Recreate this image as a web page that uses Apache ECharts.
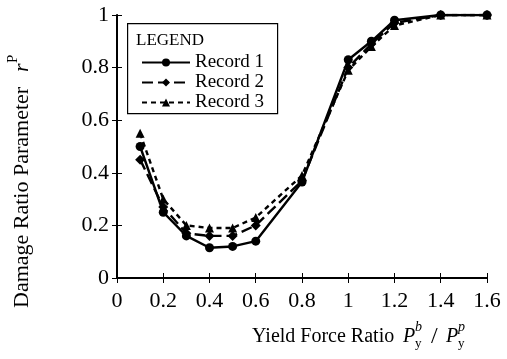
<!DOCTYPE html>
<html><head><meta charset="utf-8">
<script src="https://cdn.jsdelivr.net/npm/echarts@6/dist/echarts.min.js"></script>
<style>html,body{margin:0;padding:0;background:#fff}#c{width:507px;height:359px}</style>
</head><body><div id="c"></div>
<script>
const xValues = [0.1, 0.2, 0.3, 0.4, 0.5, 0.6, 0.8, 1.0, 1.1, 1.2, 1.4, 1.6];
const record1 = [0.50, 0.25, 0.16, 0.115, 0.12, 0.14, 0.365, 0.83, 0.90, 0.98, 1.0, 1.0];
const record2 = [0.45, 0.27, 0.17, 0.16, 0.16, 0.20, 0.37, 0.80, 0.89, 0.97, 1.0, 1.0];
const record3 = [0.55, 0.30, 0.20, 0.19, 0.19, 0.23, 0.39, 0.79, 0.88, 0.96, 1.0, 1.0];
const seriesNames = ['Record 1', 'Record 2', 'Record 3'];
const FONT = 'Liberation Serif';
const pair = (ys) => xValues.map((x, i) => [x, ys[i]]);
const chart = echarts.init(document.getElementById('c'));
const tickInside = {show: true, inside: true, length: 5, lineStyle: {color: '#000', width: 1}};
function txt(t, x, y, size, opts) {
  opts = opts || {};
  return {type: 'text', x: x, y: y, rotation: opts.rot || 0, z: 3,
    style: {text: t, fill: '#000', align: opts.align || 'left', verticalAlign: 'middle',
      font: (opts.italic ? 'italic ' : '') + size + 'px "Liberation Serif"'}};
}
const R = Math.PI / 2;
chart.setOption({
  animation: false,
  backgroundColor: '#fff',
  grid: {left: 117, right: 20, top: 15, bottom: 81},
  xAxis: [{
    type: 'value', min: 0, max: 1.6, interval: 0.2,
    axisLine: {show: true, onZero: false, lineStyle: {color: '#000', width: 2}},
    axisTick: tickInside, splitLine: {show: false},
    axisLabel: {color: '#000', fontFamily: FONT, fontSize: 22, margin: 12,
      formatter: v => String(Math.round(v * 10) / 10)}
  }, {
    type: 'value', position: 'top', min: 0, max: 1.6, interval: 0.2,
    axisLine: {show: true, lineStyle: {color: '#000', width: 1}},
    axisTick: tickInside, axisLabel: {show: false}, splitLine: {show: false}
  }],
  yAxis: [{
    type: 'value', min: 0, max: 1, interval: 0.2,
    axisLine: {show: true, onZero: false, lineStyle: {color: '#000', width: 2}},
    axisTick: tickInside, splitLine: {show: false},
    axisLabel: {color: '#000', fontFamily: FONT, fontSize: 22, margin: 8,
      formatter: v => String(Math.round(v * 10) / 10)}
  }, {
    type: 'value', position: 'right', min: 0, max: 1, interval: 0.2,
    axisLine: {show: true, lineStyle: {color: '#000', width: 1}},
    axisTick: tickInside, axisLabel: {show: false}, splitLine: {show: false}
  }],
  legend: {
    orient: 'vertical', left: 141, top: 53, itemGap: 1, itemWidth: 48, itemHeight: 10,
    padding: 0,
    data: seriesNames,
    textStyle: {color: '#000', fontFamily: FONT, fontSize: 19}
  },
  graphic: [
    {type: 'rect', left: 127, top: 23, z: 1,
      shape: {width: 150, height: 90},
      style: {fill: '#fff', stroke: '#000', lineWidth: 1.2}},
    txt('LEGEND', 136, 41, 17),
    // x-axis title
    txt('Yield Force Ratio', 252, 337, 20),
    txt('P', 403, 337, 20, {italic: true}),
    txt('y', 415, 344, 13),
    txt('b', 415, 327, 14, {italic: true}),
    txt('/', 431, 337, 24),
    txt('P', 446, 337, 20, {italic: true}),
    txt('y', 458, 344, 13),
    txt('p', 458, 327, 14, {italic: true}),
    // y-axis title (rotated)
    txt('Damage Ratio Parameter', 22, 308, 22, {rot: R}),
    txt('r', 22, 72, 22, {rot: R, italic: true}),
    txt('P', 13, 63, 15, {rot: R})
  ],
  series: [
    {name: seriesNames[0], type: 'line', data: pair(record1), symbol: 'circle', symbolSize: 9,
      lineStyle: {color: '#000', width: 2.4, type: 'solid'}, itemStyle: {color: '#000'}, z: 5},
    {name: seriesNames[1], type: 'line', data: pair(record2), symbol: 'diamond', symbolSize: 10,
      lineStyle: {color: '#000', width: 2.4, type: [11, 5]}, itemStyle: {color: '#000'}, z: 5},
    {name: seriesNames[2], type: 'line', data: pair(record3), symbol: 'triangle', symbolSize: 9,
      lineStyle: {color: '#000', width: 2.4, type: [5, 4]}, itemStyle: {color: '#000'}, z: 5}
  ]
});
</script></body></html>
